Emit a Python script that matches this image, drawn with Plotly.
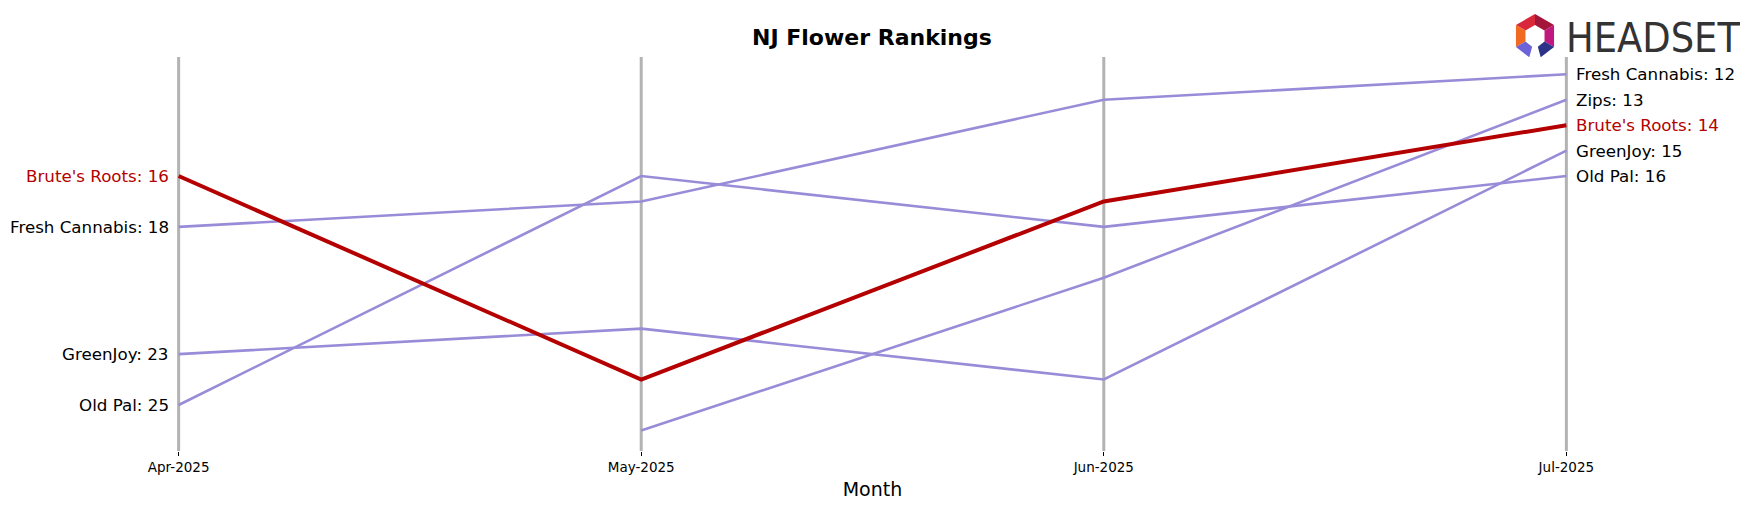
import math
import plotly.graph_objects as go

months = ["Apr-2025", "May-2025", "Jun-2025", "Jul-2025"]
brands = ["Fresh Cannabis", "Zips", "GreenJoy", "Old Pal", "Brute's Roots"]
fresh_cannabis = [18, 17, 13, 12]
zips = [None, 26, 20, 13]
greenjoy = [23, 22, 24, 15]
old_pal = [25, 16, 18, 16]
brutes_roots = [16, 24, 17, 14]
series = {
    "Fresh Cannabis": fresh_cannabis,
    "Zips": zips,
    "GreenJoy": greenjoy,
    "Old Pal": old_pal,
    "Brute's Roots": brutes_roots,
}
highlight = "Brute's Roots"

# page has an 8px body margin -> figure is drawn offset by 8px
OFF = 8
W, H = 1748 - OFF, 507 - OFF
PURPLE = "rgb(152,140,216)"
RED = "rgb(180,0,0)"
FONT = "DejaVu Sans"

x_idx = list(range(len(months)))
fig = go.Figure()
for name in brands:
    if name == highlight:
        continue
    fig.add_trace(go.Scatter(x=x_idx, y=series[name], mode="lines",
                             line=dict(color=PURPLE, width=2.6), name=name,
                             showlegend=False, connectgaps=False))
fig.add_trace(go.Scatter(x=x_idx, y=series[highlight], mode="lines",
                         line=dict(color=RED, width=4), name=highlight,
                         showlegend=False))

# vertical month lines
for i in x_idx:
    fig.add_shape(type="line", xref="x", yref="paper", x0=i, x1=i, y0=0, y1=1,
                  line=dict(color="#b3b3b3", width=3), layer="below")

# plot-area geometry (figure pixels)
L, R_, T, B = 174 - OFF, 177, 57 - OFF, 56
pw = W - L - R_
ph = H - T - B


def px2paper(px, py):
    # px, py in page pixels
    fx, fy = px - OFF, py - OFF
    return (fx - L) / pw, (H - B - fy) / ph


annotations = []
for name in brands:
    vals = series[name]
    col = RED if name == highlight else "black"
    if vals[0] is not None:
        annotations.append(dict(x=0, y=vals[0], xref="x", yref="y", text=f"{name}: {vals[0]}",
                                showarrow=False, xanchor="right", yanchor="middle", xshift=-8,
                                font=dict(family=FONT, size=16.7, color=col)))
    if vals[-1] is not None:
        annotations.append(dict(x=len(months) - 1, y=vals[-1], xref="x", yref="y",
                                text=f"{name}: {vals[-1]}",
                                showarrow=False, xanchor="left", yanchor="middle", xshift=8,
                                font=dict(family=FONT, size=16.7, color=col)))

# Title
tx, ty = px2paper(872, 37)
annotations.append(dict(x=tx, y=ty, xref="paper", yref="paper", text="<b>NJ Flower Rankings</b>",
                        showarrow=False, xanchor="center", yanchor="middle",
                        font=dict(family=FONT, size=22, color="black")))

# Logo text
lx, ly = px2paper(1564, 38)
annotations.append(dict(x=lx, y=ly, xref="paper", yref="paper", text="HEADSET", showarrow=False,
                        xanchor="left", yanchor="middle",
                        font=dict(family="DejaVu Sans Condensed, Liberation Sans Narrow", size=41,
                                  color="#333333")))

# Logo icon: hexagonal ring segments
cx, cy, Ro, Ri = 1535, 36, 22, 11
segs = [
    (90, 150, "#d9283c"),
    (30, 90, "#a3153a"),
    (-30, 30, "#c0187e"),
    (150, 210, "#f06a22"),
    (210, 255, "#6c63d8"),
    (285, 330, "#2b3288"),
]
for a0, a1, colr in segs:
    pts = []
    for a in (a0, a1):
        t = math.radians(a)
        pts.append((cx + Ro * math.cos(t), cy - Ro * math.sin(t)))
    for a in (a1, a0):
        t = math.radians(a)
        pts.append((cx + Ri * math.cos(t), cy - Ri * math.sin(t)))
    pp = [px2paper(*p) for p in pts]
    path = "M " + " L ".join(f"{u:.5f},{v:.5f}" for u, v in pp) + " Z"
    fig.add_shape(type="path", xref="paper", yref="paper", path=path,
                  fillcolor=colr, line=dict(width=0), layer="above")

fig.update_layout(
    width=W, height=H,
    margin=dict(l=L, r=R_, t=T, b=B, autoexpand=False),
    plot_bgcolor="white", paper_bgcolor="white",
    showlegend=False,
    annotations=annotations,
    xaxis=dict(range=[-0.01, 3.01], tickmode="array", tickvals=x_idx, ticktext=months,
               showgrid=False, zeroline=False, showline=False,
               ticks="outside", ticklen=4, tickcolor="black", tickwidth=1,
               tickfont=dict(family=FONT, size=13.5, color="black"),
               title=dict(text="Month", font=dict(family=FONT, size=19, color="black"), standoff=8)),
    yaxis=dict(range=[26.81, 11.32], visible=False),
)

fig.write_html("out.html")
